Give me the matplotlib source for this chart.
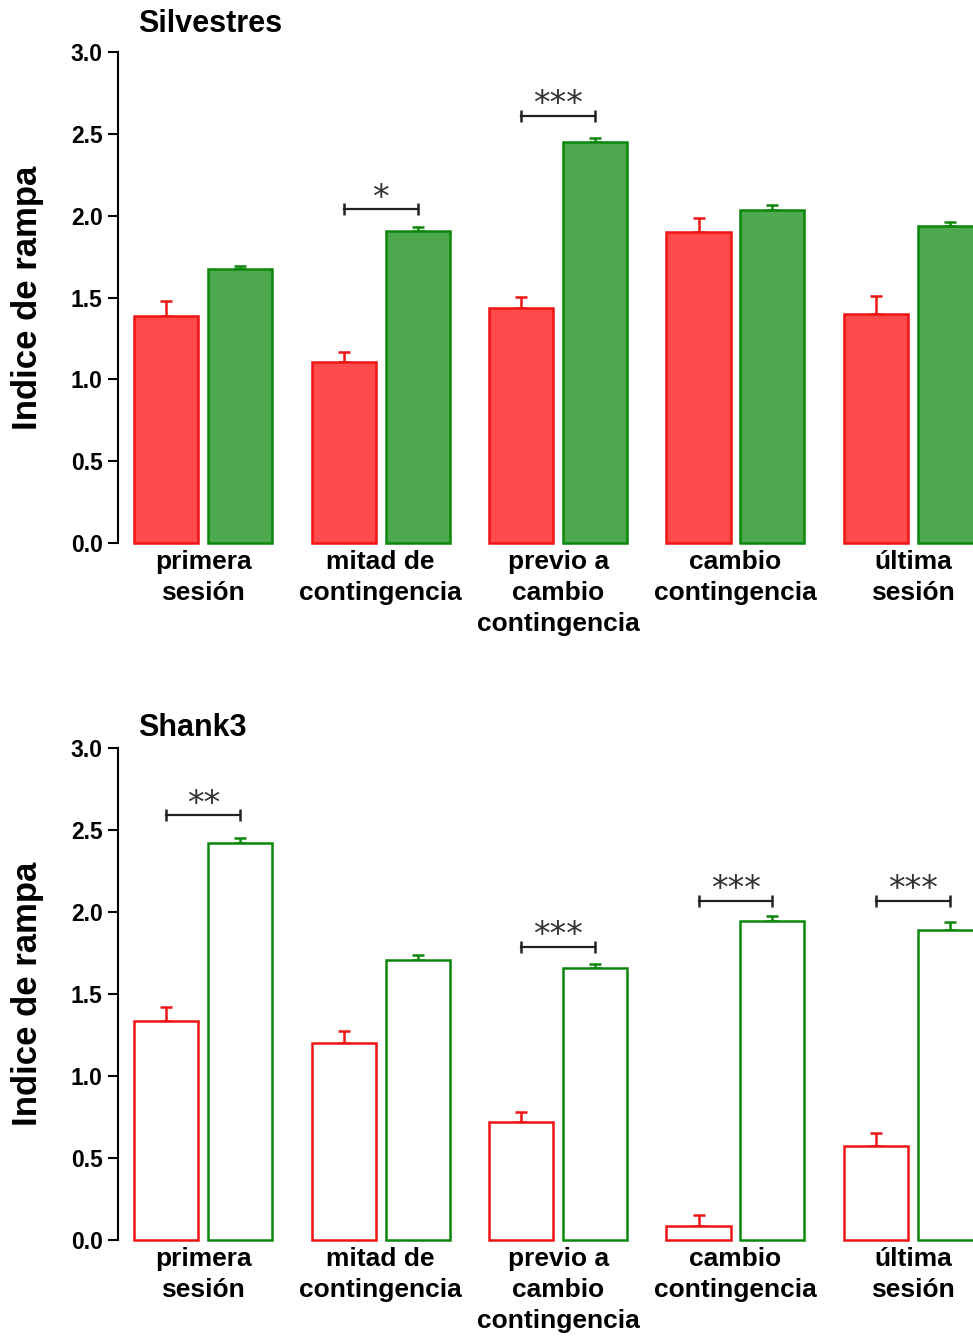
import numpy as np
import matplotlib
matplotlib.use("Agg")
import matplotlib.pyplot as plt

plt.rcParams['font.family'] = ['Liberation Sans', 'DejaVu Sans']

# data
categories = ["primera\nsesión", "mitad de\ncontingencia", "previo a\ncambio\ncontingencia",
              "cambio\ncontingencia", "última\nsesión"]

silv_red = [1.39, 1.105, 1.435, 1.90, 1.40]
silv_red_err = [0.09, 0.06, 0.07, 0.085, 0.11]
silv_green = [1.675, 1.905, 2.45, 2.035, 1.935]
silv_green_err = [0.02, 0.025, 0.025, 0.03, 0.025]

shank_red = [1.335, 1.20, 0.72, 0.085, 0.573]
shank_red_err = [0.085, 0.075, 0.06, 0.065, 0.08]
shank_green = [2.42, 1.707, 1.66, 1.945, 1.89]
shank_green_err = [0.03, 0.03, 0.025, 0.03, 0.05]

# significance brackets: (group index, bracket height, stars)
silv_sig = [(1, 2.04, "*"), (2, 2.61, "***")]
shank_sig = [(0, 2.59, "**"), (2, 1.79, "***"), (3, 2.07, "***"), (4, 2.07, "***")]

red_edge = "#f01414"
red_fill = "#ff4b4b"
green_edge = "#0b870b"
green_fill = "#4ea84e"

fig = plt.figure(figsize=(9.73, 13.38), dpi=100)
x = np.arange(len(categories))
w = 0.361
off = 0.2085


def panel(rect, red, red_err, green, green_err, sig, filled, title, title_y):
    ax = fig.add_axes(rect)
    rf = red_fill if filled else "white"
    gf = green_fill if filled else "white"
    b1 = ax.bar(x - off, red, w, color=rf, edgecolor=red_edge, linewidth=1.8, zorder=2)
    b2 = ax.bar(x + off, green, w, color=gf, edgecolor=green_edge, linewidth=1.8, zorder=2)
    for b in list(b1) + list(b2):
        b.set_clip_on(False)
    ax.errorbar(x - off, red, yerr=[np.zeros(5), red_err], fmt='none', ecolor=red_edge,
                elinewidth=1.8, capsize=4.5, capthick=1.8, zorder=1)
    ax.errorbar(x + off, green, yerr=[np.zeros(5), green_err], fmt='none', ecolor=green_edge,
                elinewidth=1.8, capsize=4.5, capthick=1.8, zorder=1)
    for i, h, s in sig:
        ax.plot([i - off, i + off], [h, h], color="#222222", lw=1.6,
                marker='|', markersize=9, markeredgewidth=1.8)
        ax.annotate(s, (i, h), xytext=(0, -4), textcoords='offset points', ha='center',
                    va='bottom', fontsize=24, color="#333333", family='DejaVu Sans')
    ax.set_xlim(-0.481, 4.339)
    ax.set_ylim(0, 3.0)
    ax.set_yticks(np.arange(0, 3.01, 0.5))
    ax.set_yticklabels([f"{v:.1f}" for v in np.arange(0, 3.01, 0.5)], fontsize=16.5, fontweight='bold')
    ax.set_xticks(x)
    ax.set_xticklabels(categories, fontsize=19, fontweight='bold', linespacing=1.38)
    ax.tick_params(axis='x', length=0, pad=5)
    ax.tick_params(axis='y', length=7, width=1.5, pad=4)
    for s in ['top', 'right', 'bottom']:
        ax.spines[s].set_visible(False)
    ax.spines['left'].set_linewidth(1.5)
    fig.text(138 / 973, title_y, title, fontsize=22, fontweight='bold', va='baseline')
    fig.text(28 / 973, rect[1] + rect[3] / 2, "Indice de rampa", rotation=90,
             ha='center', va='center', fontsize=25, fontweight='bold')
    return ax


panel([0.1213, 0.5942, 0.8787, 0.3669], silv_red, silv_red_err, silv_green, silv_green_err,
      silv_sig, True, "Silvestres", 1 - 32 / 1338)
panel([0.1213, 0.0732, 0.8787, 0.3677], shank_red, shank_red_err, shank_green, shank_green_err,
      shank_sig, False, "Shank3", 1 - 736 / 1338)

fig.savefig("out.png", dpi=100)
